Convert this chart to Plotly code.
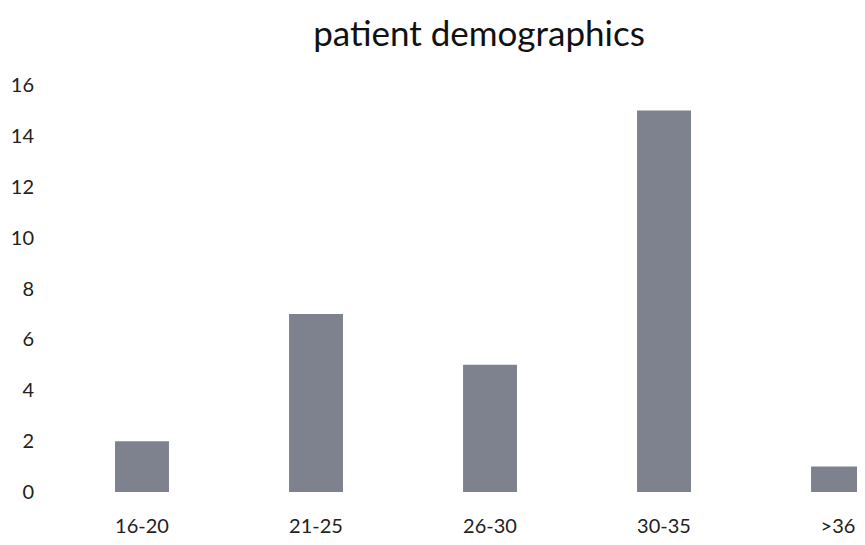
import plotly.graph_objects as go

categories = ["16-20", "21-25", "26-30", "30-35", ">36"]
patients = [2, 7, 5, 15, 1]
y_ticks = [0, 2, 4, 6, 8, 10, 12, 14, 16]

fig = go.Figure(
    go.Bar(
        x=categories,
        y=patients,
        marker=dict(color="#7e828f", line=dict(width=0)),
        width=0.31,
    )
)

fig.update_layout(
    width=865,
    height=545,
    paper_bgcolor="white",
    plot_bgcolor="white",
    margin=dict(l=47, r=8, t=77, b=61, autoexpand=False),
    font=dict(family="Lato, Open Sans, sans-serif", color="#222222", size=20),
    title=dict(
        text="patient demographics",
        x=0.5445,
        xanchor="center",
        y=0.953,
        yanchor="middle",
        font=dict(size=35, color="#111111"),
    ),
    showlegend=False,
)

fig.update_xaxes(
    type="category",
    range=[-0.5, 4.155],
    showgrid=False,
    showline=False,
    zeroline=False,
    ticks="",
    ticklabelstandoff=20,
    automargin=False,
)
fig.update_yaxes(
    range=[0, 16],
    tickvals=y_ticks,
    showgrid=False,
    showline=False,
    zeroline=False,
    ticks="",
    ticklabelstandoff=20,
    automargin=False,
)

fig.write_html("out.html")
